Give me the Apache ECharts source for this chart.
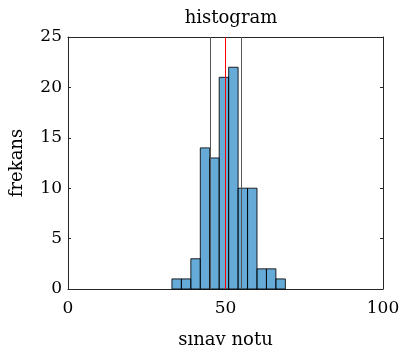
<!DOCTYPE html>
<html>
<head>
<meta charset="utf-8">
<script src="https://cdn.jsdelivr.net/npm/echarts@6/dist/echarts.min.js"></script>
<style>
html,body{margin:0;padding:0;background:#fff;}
#chart{width:402px;height:348px;}
</style>
</head>
<body>
<div id="chart"></div>
<script>
// ---- data ----
var binStarts = [33, 36, 39, 42, 45, 48, 51, 54, 57, 60, 63, 66];
var binWidth = 3;
var counts = [1, 1, 3, 14, 13, 21, 22, 10, 10, 2, 2, 1];
var meanValue = 49.95;
var stdLines = [45.0, 54.9];
var xTicks = [0, 50, 100];
var yTicks = [0, 5, 10, 15, 20, 25];
var titleText = 'histogram';
var xLabel = 'sınav notu';
var yLabel = 'frekans';

var FONT = 'DejaVu Serif';
var AX = '#262626';

var histData = binStarts.map(function (s, i) { return [s, s + binWidth, counts[i]]; });

var chart = echarts.init(document.getElementById('chart'), null, { renderer: 'canvas' });

function axisCommon() {
  return {
    type: 'value',
    axisLine: { show: true, onZero: false, lineStyle: { color: AX, width: 1 } },
    axisTick: { show: true, inside: true, length: 3, lineStyle: { color: AX } },
    splitLine: { show: false }
  };
}

chart.setOption({
  animation: false,
  title: {
    text: titleText, left: 226, top: 4, textAlign: 'center',
    textStyle: { fontFamily: FONT, fontWeight: 'normal', fontSize: 18, color: '#000' }
  },
  grid: { left: 68, right: 19, top: 37, bottom: 59, containLabel: false, outerBoundsMode: 'none' },
  xAxis: [
    Object.assign(axisCommon(), {
      min: 0, max: 100, interval: 50, position: 'bottom',
      name: xLabel, nameLocation: 'middle', nameGap: 42,
      nameTextStyle: { fontFamily: FONT, fontSize: 18, color: '#000' },
      axisLabel: { fontFamily: FONT, fontSize: 17, color: '#000', margin: 11,
        formatter: function (v) { return xTicks.indexOf(v) >= 0 ? String(v) : ''; } }
    }),
    Object.assign(axisCommon(), {
      min: 0, max: 100, interval: 50, position: 'top', axisLabel: { show: false }
    })
  ],
  yAxis: [
    Object.assign(axisCommon(), {
      min: 0, max: 25, interval: 5, position: 'left',
      name: yLabel, nameLocation: 'middle', nameGap: 42, nameRotate: 90,
      nameTextStyle: { fontFamily: FONT, fontSize: 18, color: '#000' },
      axisLabel: { fontFamily: FONT, fontSize: 17, color: '#000', margin: 6,
        formatter: function (v) { return yTicks.indexOf(v) >= 0 ? String(v) : ''; } }
    }),
    Object.assign(axisCommon(), {
      min: 0, max: 25, interval: 5, position: 'right', axisLabel: { show: false }
    })
  ],
  series: [
    {
      type: 'line', data: [], z: 1, silent: true,
      markLine: {
        symbol: 'none', silent: true, label: { show: false },
        lineStyle: { color: '#555555', width: 1, type: 'solid' },
        data: stdLines.map(function (v) { return { xAxis: v }; })
      }
    },
    {
      type: 'custom', z: 2, data: histData,
      renderItem: function (params, api) {
        var p0 = api.coord([api.value(0), api.value(2)]);
        var p1 = api.coord([api.value(1), 0]);
        return {
          type: 'rect',
          shape: { x: p0[0], y: p0[1], width: p1[0] - p0[0], height: p1[1] - p0[1] },
          style: { fill: 'rgba(0,114,189,0.6)', stroke: 'rgba(0,0,0,0.85)', lineWidth: 1 }
        };
      },
      encode: { x: [0, 1], y: 2 }
    },
    {
      type: 'line', data: [], z: 5, silent: true,
      markLine: {
        symbol: 'none', silent: true, label: { show: false },
        lineStyle: { color: '#ff0000', width: 1, type: 'solid' },
        data: [{ xAxis: meanValue }]
      }
    }
  ]
});
</script>
</body>
</html>
